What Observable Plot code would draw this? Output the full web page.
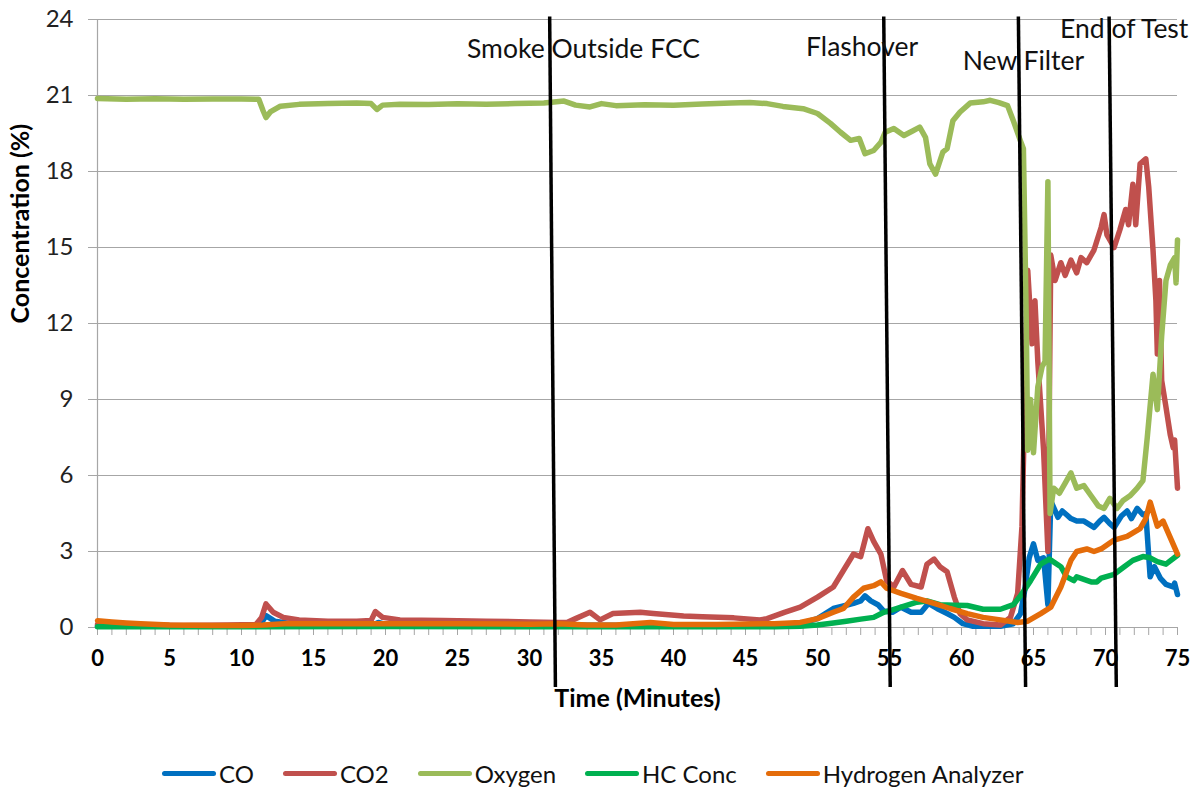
<!DOCTYPE html>
<html><head><meta charset="utf-8">
<script src="https://cdn.jsdelivr.net/npm/d3@7"></script>
<script src="https://cdn.jsdelivr.net/npm/@observablehq/plot@0.6"></script>
<style>
html,body{margin:0;padding:0;background:#fff;}
body{width:1200px;height:788px;overflow:hidden;font-family:Lato,"Open Sans",sans-serif;}
#legend{display:flex;align-items:center;padding-left:162px;padding-top:25px;height:26px;font-size:24px;color:#111;}
.item{display:flex;align-items:center;margin-right:29px;}
.swatch{width:54px;height:5px;border-radius:3px;margin-right:3px;}
</style></head>
<body><div id="chart"></div><div id="legend"></div>
<script>
// Series: [time (minutes), concentration (%)]
const co = [[0,0.05],[5,0.05],[10,0.06],[11.3,0.1],[11.7,0.47],[12.3,0.25],[13.5,0.15],[19.2,0.12],[19.5,0.2],[20,0.12],[30,0.1],[40,0.08],[46,0.08],[48.8,0.15],[50,0.35],[51.1,0.75],[51.8,0.85],[52.5,0.95],[53.0,1.05],[53.3,1.25],[53.7,1.05],[54.2,0.9],[54.6,0.65],[55.2,0.6],[55.8,0.8],[56.5,0.6],[57.2,0.6],[57.7,0.95],[58.3,0.75],[59.0,0.55],[59.5,0.4],[60.1,0.15],[60.8,0.05],[62.7,0.05],[63.6,0.15],[64.1,0.55],[64.4,1.5],[64.7,2.75],[65.0,3.3],[65.3,2.65],[65.7,2.75],[66.0,0.9],[66.2,5.0],[66.7,4.35],[67.0,4.6],[67.3,4.45],[67.6,4.3],[68.0,4.2],[68.5,4.2],[69.2,3.95],[69.6,4.2],[69.9,4.35],[70.3,4.1],[70.6,3.95],[71.1,4.4],[71.5,4.6],[71.8,4.3],[72.2,4.7],[72.6,4.45],[72.8,4.5],[73.1,2.0],[73.4,2.4],[73.8,1.95],[74.2,1.7],[74.7,1.6],[74.8,1.75],[75,1.3]];
const co2 = [[0,0.12],[3,0.1],[6,0.08],[9,0.1],[11.0,0.12],[11.4,0.4],[11.7,0.93],[12.2,0.6],[12.9,0.4],[14,0.3],[16,0.25],[18,0.25],[19.0,0.28],[19.3,0.63],[19.8,0.4],[21,0.3],[24,0.28],[27,0.25],[30,0.22],[32,0.2],[32.6,0.2],[33.2,0.35],[34.2,0.6],[34.9,0.3],[35.8,0.55],[37.7,0.6],[38.6,0.55],[40.7,0.45],[42,0.42],[44.2,0.38],[46.0,0.3],[46.5,0.35],[47.7,0.6],[48.8,0.8],[50.0,1.2],[51.1,1.6],[51.8,2.25],[52.5,2.9],[53.0,2.8],[53.5,3.9],[53.9,3.4],[54.4,2.9],[54.8,1.85],[55.3,1.6],[55.9,2.25],[56.5,1.7],[57.2,1.6],[57.6,2.5],[58.1,2.7],[58.5,2.4],[59.0,2.2],[59.5,1.2],[59.9,0.55],[60.4,0.3],[61.5,0.15],[62.7,0.1],[63.4,0.4],[63.9,1.35],[64.2,4.0],[64.6,14.1],[64.9,11.2],[65.1,12.9],[65.3,10.5],[65.7,7.0],[66.0,3.0],[66.2,14.7],[66.5,13.7],[66.9,14.4],[67.2,13.9],[67.6,14.5],[68.0,14.0],[68.3,14.6],[68.7,14.4],[69.2,14.9],[69.7,15.8],[69.9,16.3],[70.1,15.5],[70.6,15.0],[71.0,15.7],[71.4,16.5],[71.6,15.9],[71.9,17.5],[72.1,15.9],[72.4,18.3],[72.8,18.5],[73.0,17.4],[73.3,14.9],[73.5,12.9],[73.6,10.8],[73.75,13.7],[73.9,9.75],[74.2,8.7],[74.5,7.6],[74.7,7.1],[74.8,7.4],[75,5.5]];
const oxygen = [[0,20.88],[2,20.85],[4,20.87],[6,20.85],[8,20.86],[10,20.86],[11.2,20.85],[11.5,20.4],[11.7,20.13],[12.0,20.35],[12.7,20.58],[14,20.65],[16,20.68],[18,20.7],[19.0,20.68],[19.4,20.45],[19.8,20.62],[21,20.65],[23,20.64],[25,20.67],[27,20.65],[29,20.68],[31,20.7],[32.4,20.78],[33.2,20.62],[34.2,20.55],[35,20.68],[36,20.6],[38,20.63],[40,20.62],[42,20.66],[44,20.7],[45.3,20.72],[46.5,20.68],[47.6,20.57],[49.0,20.48],[50.0,20.29],[50.9,19.9],[51.6,19.55],[52.3,19.23],[52.9,19.3],[53.3,18.7],[53.9,18.83],[54.4,19.15],[54.7,19.55],[55.3,19.7],[56.0,19.42],[56.6,19.6],[57.1,19.75],[57.5,19.35],[57.8,18.3],[58.2,17.9],[58.7,18.76],[59.0,18.9],[59.4,20.0],[59.9,20.35],[60.6,20.7],[61.5,20.75],[62.0,20.81],[62.6,20.72],[63.2,20.6],[63.6,20.0],[64.1,19.2],[64.3,18.9],[64.5,12],[64.6,7.0],[64.8,9.0],[65.0,6.9],[65.3,9.5],[65.6,10.3],[65.8,10.5],[66.0,17.6],[66.15,4.5],[66.4,5.5],[66.8,5.3],[67.2,5.7],[67.6,6.1],[68.0,5.5],[68.5,5.6],[69.0,5.2],[69.5,4.8],[69.9,4.7],[70.3,5.1],[70.8,4.7],[71.2,5.0],[71.7,5.2],[72.2,5.5],[72.6,5.8],[72.9,7.5],[73.3,10.0],[73.6,8.6],[73.9,11.5],[74.2,13.7],[74.5,14.3],[74.8,14.6],[74.9,13.6],[75,15.3]];
const hcConc = [[0,0.03],[10,0.03],[20,0.04],[30,0.03],[40,0.03],[47,0.03],[48.8,0.05],[50,0.1],[51.1,0.18],[52,0.25],[53,0.33],[53.9,0.4],[54.6,0.6],[55.2,0.7],[55.8,0.8],[56.9,1.0],[57.6,1.05],[58.5,0.9],[59.5,0.88],[60.4,0.87],[61.5,0.72],[62.7,0.72],[63.6,0.9],[64.1,1.25],[64.8,1.85],[65.5,2.5],[66.1,2.7],[66.9,2.4],[67.3,2.0],[67.8,1.85],[68.0,2.0],[69.0,1.8],[69.4,1.8],[69.7,1.95],[70.6,2.1],[71.3,2.4],[71.9,2.65],[72.6,2.8],[73.1,2.75],[73.6,2.6],[74.2,2.5],[75,2.85]];
const hydrogen = [[0,0.27],[1,0.22],[2,0.18],[3,0.15],[5,0.1],[8,0.08],[10,0.08],[11.5,0.1],[13,0.15],[15,0.15],[20,0.15],[25,0.15],[30,0.13],[32,0.15],[34,0.1],[36,0.1],[38.4,0.2],[40,0.12],[43,0.12],[47,0.15],[48.8,0.2],[50,0.35],[51.1,0.6],[51.8,0.75],[52.5,1.2],[53.2,1.55],[53.9,1.65],[54.4,1.8],[54.8,1.55],[55.8,1.35],[56.9,1.15],[58.1,0.95],[59.2,0.75],[60.4,0.55],[61.5,0.4],[62.7,0.3],[63.9,0.2],[64.6,0.25],[65.5,0.55],[66.2,0.8],[66.9,1.6],[67.6,2.65],[68.0,3.0],[68.7,3.1],[69.2,3.0],[69.7,3.1],[70.6,3.45],[71.5,3.6],[72.4,3.9],[72.8,4.3],[73.1,4.95],[73.6,4.0],[74.0,4.2],[74.5,3.55],[75,2.9]];

const seriesNames = ["CO","CO2","Oxygen","HC Conc","Hydrogen Analyzer"];
const seriesColors = ["#0070C0","#C0504D","#9BBB59","#00B050","#E46C0A"];

const xTicks = d3.range(0, 76, 1);
const yTicks = [0,3,6,9,12,15,18,21,24];

const eventNames = ["Smoke Outside FCC","Flashover","New Filter","End of Test"];
const eventTimeTop = [31.4, 54.6, 63.95, 70.25];
const eventTimeBottom = [31.8, 55.05, 64.45, 70.75];
const eventLabelTime = [33.75, 53.1, 64.3, 71.3];
const eventLabelLevel = [22.8, 22.88, 22.36, 23.62];

const rows = [];
[co, co2, oxygen, hcConc, hydrogen].forEach((arr, i) =>
  arr.forEach(([t, v]) => rows.push({t, v, s: seriesNames[i]})));

const events = eventNames.map((name, i) => ({
  name, top: eventTimeTop[i], bottom: eventTimeBottom[i],
  lx: eventLabelTime[i], ly: eventLabelLevel[i]
}));

const chart = Plot.plot({
  width: 1200,
  height: 735,
  marginLeft: 97,
  marginRight: 23,
  marginTop: 19,
  marginBottom: 108,
  style: {fontFamily: "Lato, sans-serif", background: "white", color: "#000"},
  x: {domain: [0, 75]},
  y: {domain: [0, 24]},
  color: {domain: seriesNames, range: seriesColors},
  marks: [
    Plot.ruleY(yTicks, {stroke: "#a6a6a6", strokeWidth: 1.2}),
    Plot.ruleX([0], {stroke: "#a6a6a6", strokeWidth: 1.2}),
    Plot.axisY(yTicks, {tickSize: 9, tickPadding: 15, stroke: "#a6a6a6", fill: "#222", fontSize: 24, label: null}),
    Plot.axisX(xTicks, {tickSize: 8, tickPadding: 15, stroke: "#a6a6a6", fill: "#000", fontSize: 22, fontWeight: "bold",
      tickFormat: d => d % 5 === 0 ? String(d) : "", label: null}),
    Plot.line(rows, {x: "t", y: "v", z: "s", stroke: "s", strokeWidth: 5.5, strokeLinejoin: "round", strokeLinecap: "round"}),
    Plot.link(events, {x1: "top", y1: () => 24.12, x2: "bottom", y2: () => -2.35, stroke: "#000", strokeWidth: 3.5}),
    Plot.text(events, {x: "lx", y: "ly", text: "name", fontSize: 26.5, fill: "#111"}),
    Plot.text(["Time (Minutes)"], {frameAnchor: "bottom", dy: 79, fontSize: 25, fontWeight: "bold", fill: "#000"}),
    Plot.text(["Concentration (%)"], {frameAnchor: "left", dx: -77, rotate: -90, fontSize: 25, fontWeight: "bold", fill: "#000"})
  ]
});
document.getElementById("chart").appendChild(chart);

const legend = document.getElementById("legend");
seriesNames.forEach((name, i) => {
  const item = document.createElement("div");
  item.className = "item";
  const sw = document.createElement("span");
  sw.className = "swatch";
  sw.style.background = seriesColors[i];
  const label = document.createElement("span");
  label.textContent = name;
  item.appendChild(sw);
  item.appendChild(label);
  legend.appendChild(item);
});
</script>
</body></html>
